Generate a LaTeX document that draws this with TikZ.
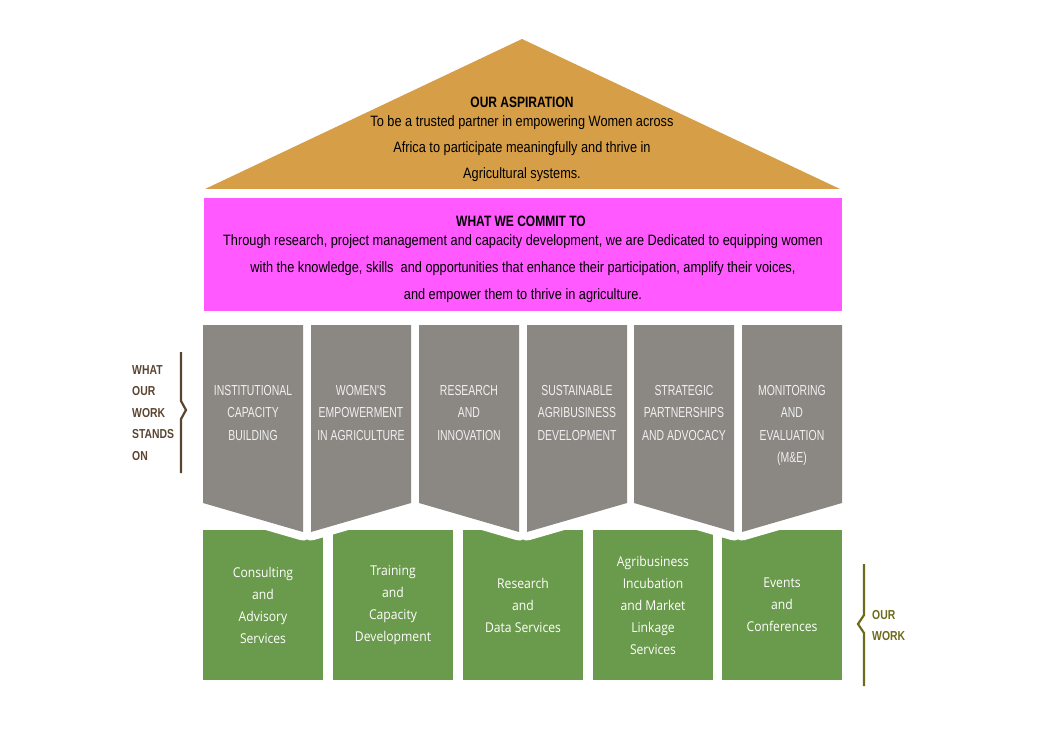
\documentclass[tikz,border=0pt]{standalone}
\usepackage{fontspec}
\setmainfont{Liberation Sans}[FakeStretch=0.85]
\newfontfamily\headfont{Liberation Sans}[FakeStretch=0.8]
\newfontfamily\pillarfont{Liberation Sans}[FakeStretch=0.72]
\newfontfamily\workfont{Open Sans}[FakeStretch=0.9]
\usepackage{tikz}
\usetikzlibrary{positioning}

\definecolor{roofgold}{HTML}{D69E46}
\definecolor{commitpink}{HTML}{FF59FF}
\definecolor{pillargray}{HTML}{8B8883}
\definecolor{pillartext}{HTML}{F0F0F0}
\definecolor{workgreen}{HTML}{6A9A4B}
\definecolor{standsbrown}{HTML}{5B4531}
\definecolor{workolive}{HTML}{6E6A1C}

\begin{document}
\begin{tikzpicture}[x=1pt, y=-1pt,
    head/.style={font=\headfont\bfseries\fontsize{15}{18}\selectfont, inner sep=0pt},
    body/.style={font=\fontsize{15}{26}\selectfont, align=center, inner sep=0pt},
    pillarbox/.style={fill=pillargray},
    notch/.style={draw=white, line width=17pt, line join=round},
    pillarlabel/.style={font=\pillarfont\fontsize{14.5}{22.5}\selectfont, text=pillartext, align=center, inner sep=0pt, anchor=north},
    workbox/.style={fill=workgreen, minimum width=120pt, minimum height=150pt, inner sep=0pt,
        font=\workfont\fontsize{13.5}{22}\selectfont, text=white, align=center},
    sidelabel/.style={font=\headfont\bfseries\fontsize{13}{21.5}\selectfont, align=left, inner sep=0pt, anchor=west},
    brace/.style={line width=2.2pt, line join=miter}]
    \useasboundingbox (0,0) rectangle (1039,746);

    % Roof: aspiration
    \fill[roofgold] (205,189) -- (522,39) -- (840,189) -- cycle;
    \node[head] (aspirationtitle) at (522,102) {OUR ASPIRATION};
    \node[body] (aspiration) at (522,149) {To be a trusted partner in empowering Women across\\
        Africa to participate meaningfully and thrive in\\
        Agricultural systems.};

    % Commitment band
    \node[fill=commitpink, minimum width=638pt, minimum height=113pt, inner sep=0pt] (commit) at (523,254.5) {};
    \node[head] (committitle) at (521,221) {WHAT WE COMMIT TO};
    \node[body, font=\fontsize{15}{27}\selectfont] (committext) at (523,269) {Through research, project management and capacity development, we are Dedicated to equipping women\\
        with the knowledge, skills\ \ and opportunities that enhance their participation, amplify their voices,\\
        and empower them to thrive in agriculture.};

    % Our work (green boxes)
    \node[workbox] (consulting) at (263,605) {Consulting\\and\\Advisory\\Services};
    \node[workbox] (training) at (393,605) {Training\\and\\Capacity\\Development};
    \node[workbox] (data) at (523,605) {Research\\and\\Data Services};
    \node[workbox] (incubation) at (653,605) {Agribusiness\\Incubation\\and Market\\Linkage\\Services};
    \node[workbox] (events) at (782,605) {Events\\and\\Conferences};

    % Pillars: white gap first, then the grey fill
    \draw[notch] (203,325) -- (303,325) -- (303,532) -- (203,503) -- cycle;
    \draw[notch] (311,325) -- (411,325) -- (411,503) -- (311,532) -- cycle;
    \draw[notch] (419,325) -- (519,325) -- (519,532) -- (419,503) -- cycle;
    \draw[notch] (527,325) -- (627,325) -- (627,503) -- (527,532) -- cycle;
    \draw[notch] (634,325) -- (734,325) -- (734,532) -- (634,503) -- cycle;
    \draw[notch] (742,325) -- (842,325) -- (842,503) -- (742,532) -- cycle;

    \fill[pillarbox] (203,325) -- (303,325) -- (303,532) -- (203,503) -- cycle;
    \fill[pillarbox] (311,325) -- (411,325) -- (411,503) -- (311,532) -- cycle;
    \fill[pillarbox] (419,325) -- (519,325) -- (519,532) -- (419,503) -- cycle;
    \fill[pillarbox] (527,325) -- (627,325) -- (627,503) -- (527,532) -- cycle;
    \fill[pillarbox] (634,325) -- (734,325) -- (734,532) -- (634,503) -- cycle;
    \fill[pillarbox] (742,325) -- (842,325) -- (842,503) -- (742,532) -- cycle;

    \node[pillarlabel] (institutional) at (253,385) {INSTITUTIONAL\\CAPACITY\\BUILDING};
    \node[pillarlabel] (empowerment) at (361,385) {WOMEN'S\\EMPOWERMENT\\IN AGRICULTURE};
    \node[pillarlabel] (innovation) at (469,385) {RESEARCH\\AND\\INNOVATION};
    \node[pillarlabel] (agribusiness) at (577,385) {SUSTAINABLE\\AGRIBUSINESS\\DEVELOPMENT};
    \node[pillarlabel] (advocacy) at (684,385) {STRATEGIC\\PARTNERSHIPS\\AND ADVOCACY};
    \node[pillarlabel] (monitoring) at (792,385) {MONITORING\\AND\\EVALUATION\\(M\&E)};

    % Side labels with braces
    \node[sidelabel, text=standsbrown] (standson) at (132,413) {WHAT\\OUR\\WORK\\STANDS\\ON};
    \draw[brace, standsbrown] (181,352) -- (181,401) -- (186,410) -- (181,419) -- (181,473);

    \node[sidelabel, text=workolive, font=\headfont\bfseries\fontsize{13}{21}\selectfont] (ourwork) at (872,625.5) {OUR\\WORK};
    \draw[brace, workolive] (864,564) -- (864,615) -- (858,624) -- (864,633) -- (864,686);
\end{tikzpicture}
\end{document}
